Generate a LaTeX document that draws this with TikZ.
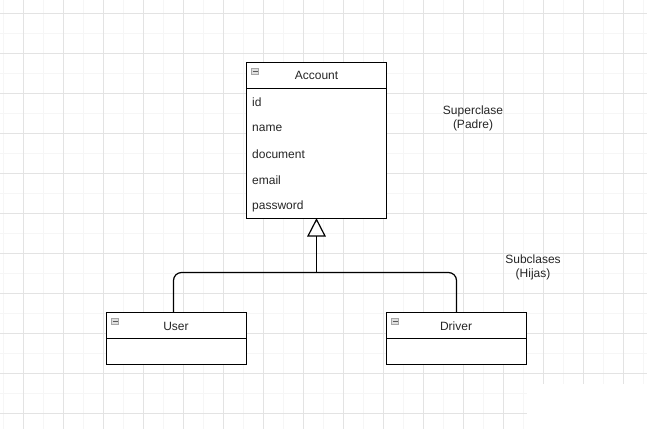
\documentclass[tikz,border=0pt]{standalone}
\usepackage{fontspec}
\setmainfont{Liberation Sans}
\begin{document}
\begin{tikzpicture}[x=1pt,y=-1pt,
  box/.style={draw=black,line width=1.2pt,fill=white},
  lbl/.style={font=\fontsize{12}{14}\selectfont,text=black!85,inner sep=0pt},
  attr/.style={lbl,anchor=west},
  icon/.style={draw=gray!70,fill=gray!25,line width=0.6pt,minimum size=6.5pt,inner sep=0pt},
  conn/.style={draw=black,line width=1.2pt}]
\useasboundingbox (0,0) rectangle (647,429);
\fill[white] (0,0) rectangle (647,429);
% grid
\foreach \x in {3,43,...,643} \draw[gray!7,line width=0.6pt] (\x,0) -- (\x,429);
\foreach \y in {33,73,...,429} \draw[gray!7,line width=0.6pt] (0,\y) -- (647,\y);
\foreach \x in {23,63,...,643} \draw[gray!22,line width=0.8pt] (\x,0) -- (\x,429);
\foreach \y in {13,53,...,429} \draw[gray!22,line width=0.8pt] (0,\y) -- (647,\y);
\fill[white] (526.5,383.5) rectangle (648,430);
% Account
\draw[box] (246.5,62.5) rectangle (386.5,218.5);
\draw[conn] (246.5,88.5) -- (386.5,88.5);
\node[icon] (ai) at (255,71.5) {};
\draw[gray!70!black,line width=0.6pt] (252.5,71.5) -- (257.5,71.5);
\node[lbl] (acc) at (316.5,75.5) {Account};
\node[attr] (a1) at (252,102) {id};
\node[attr] (a2) at (252,128) {name};
\node[attr] (a3) at (252,154) {document};
\node[attr] (a4) at (252,180) {email};
\node[attr] (a5) at (252,206) {password};
\coordinate (accb) at (316.5,218.5);
% User
\draw[box] (106.5,312.5) rectangle (246.5,364.5);
\draw[conn] (106.5,338.5) -- (246.5,338.5);
\node[icon] (ui) at (115,321.5) {};
\draw[gray!70!black,line width=0.6pt] (112.5,321.5) -- (117.5,321.5);
\node[lbl] (user) at (176,326) {User};
\coordinate (ut) at (173.5,312.5);
% Driver
\draw[box] (386.5,312.5) rectangle (526.5,364.5);
\draw[conn] (386.5,338.5) -- (526.5,338.5);
\node[icon] (di) at (395,321.5) {};
\draw[gray!70!black,line width=0.6pt] (392.5,321.5) -- (397.5,321.5);
\node[lbl] (driver) at (456,326) {Driver};
\coordinate (dt) at (456.5,312.5);
% generalization
\coordinate (tb) at (316.5,236);
\coordinate (j) at (316.5,272.5);
\draw[conn,line join=miter] (accb) ++(0,1) -- (308,236) -- (325,236) -- cycle;
\draw[conn] (tb) -- (j);
\draw[conn,rounded corners=8pt] (ut) -- (173.5,272.5) -- (456.5,272.5) -- (dt);
% notes
\node[lbl,align=center] (sup) at (473,118) {Superclase\\(Padre)};
\node[lbl,align=center] (sub) at (533,267) {Subclases\\(Hijas)};
\end{tikzpicture}
\end{document}
